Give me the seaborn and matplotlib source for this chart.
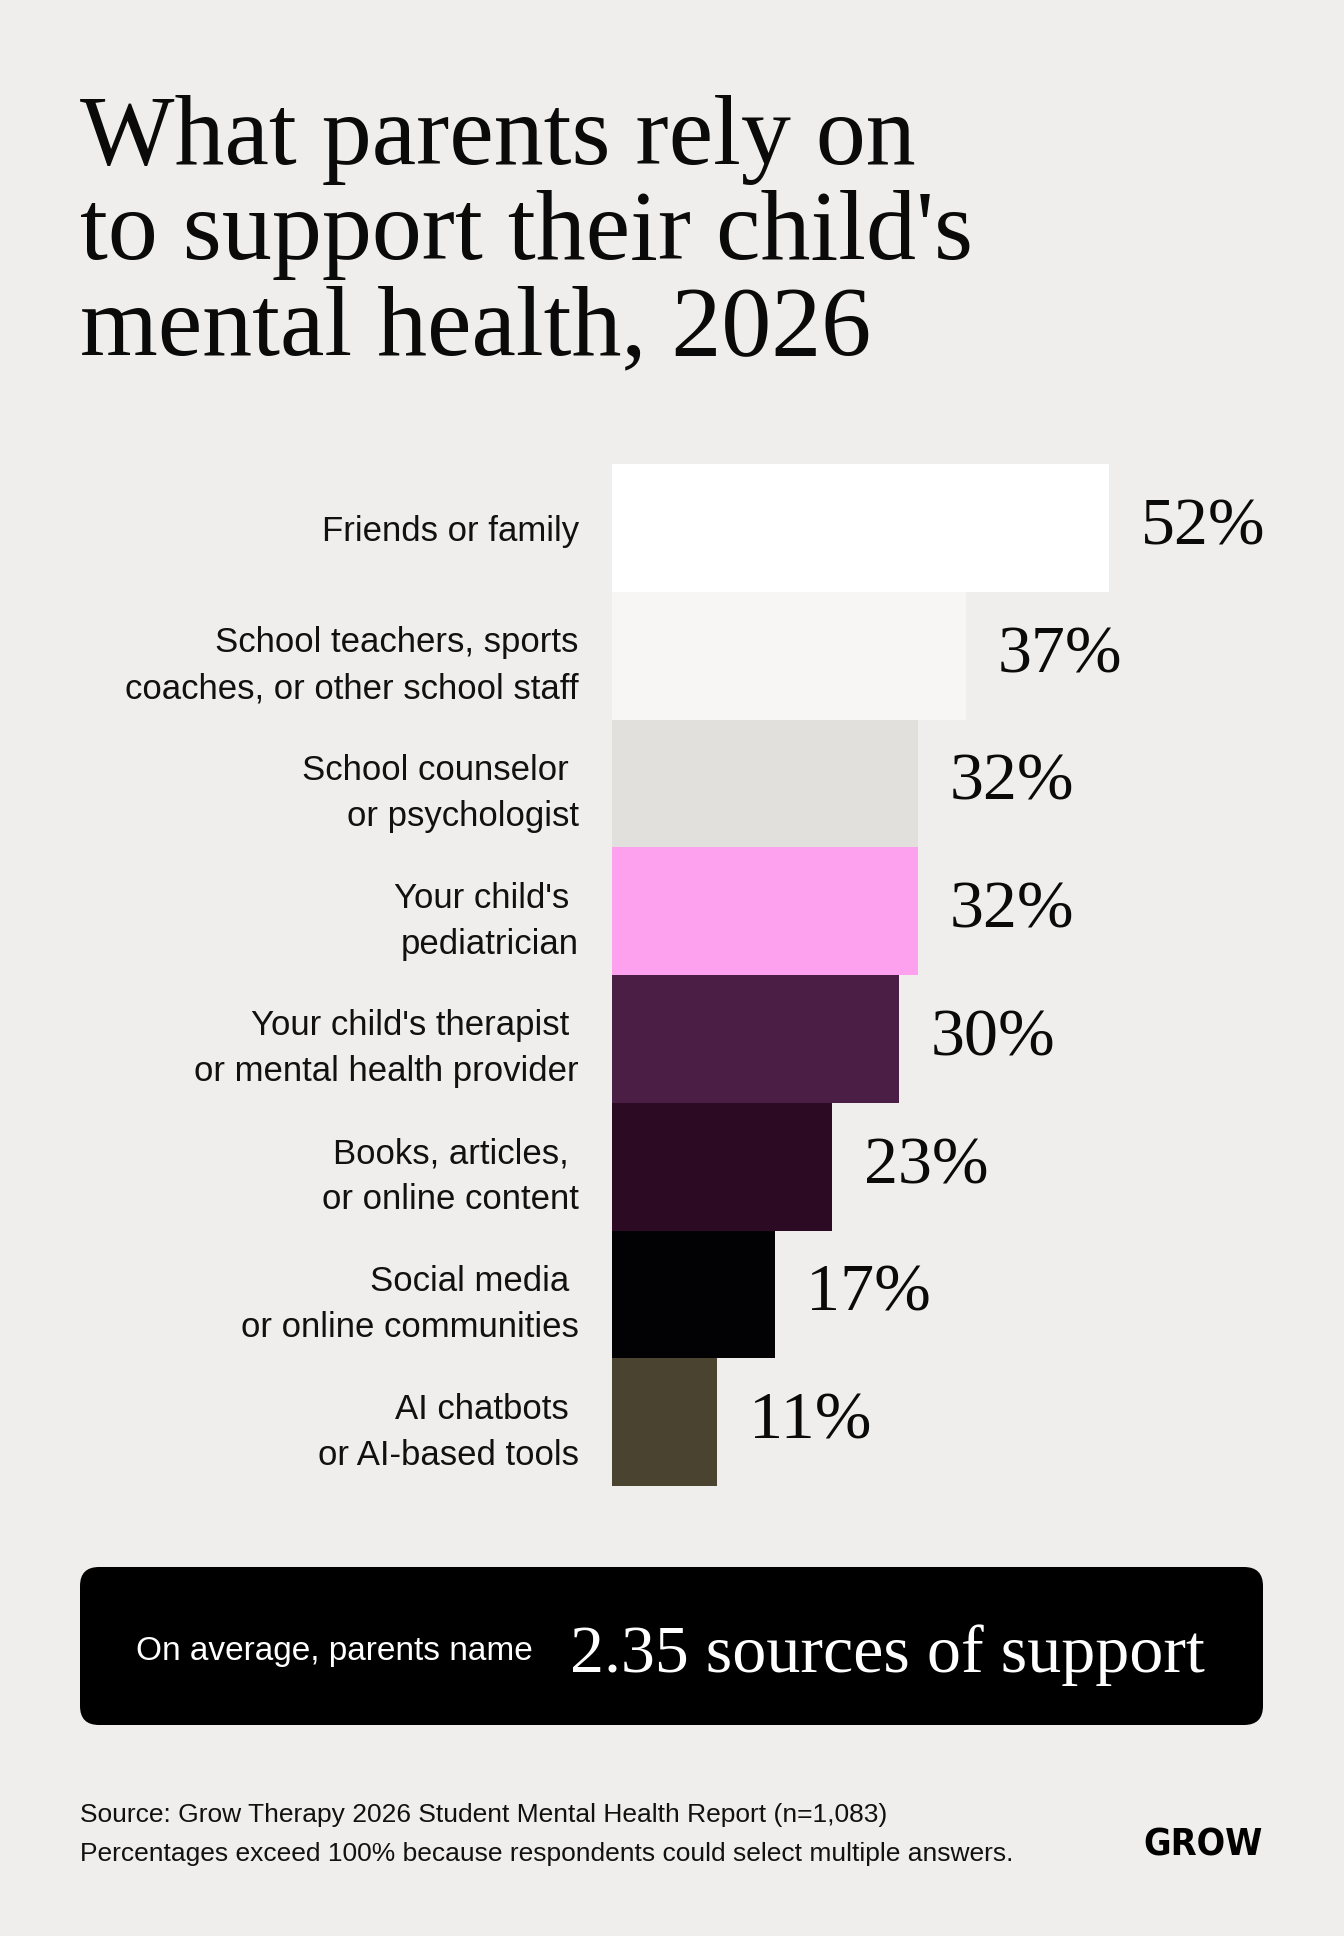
import matplotlib
matplotlib.use("Agg")
import matplotlib.pyplot as plt
from matplotlib.patches import FancyBboxPatch
import seaborn as sns

sources = [
    "Friends or family",
    "School teachers, sports\ncoaches, or other school staff",
    "School counselor \nor psychologist",
    "Your child's \npediatrician",
    "Your child's therapist \nor mental health provider",
    "Books, articles, \nor online content",
    "Social media \nor online communities",
    "AI chatbots \nor AI-based tools",
]
share = [52, 37, 32, 32, 30, 23, 17, 11]
bar_colors = ["#FFFFFF", "#F7F6F4", "#E2E0DC", "#FDA0EE",
              "#4B1E45", "#2C0A23", "#020204", "#4A4330"]

title_lines = ["What parents rely on", "to support their child's", "mental health, 2026"]
avg_sources = 2.35

BG = "#EFEEEC"
SANS = ["Liberation Sans", "DejaVu Sans"]
SERIF = ["Liberation Serif", "DejaVu Serif"]

W, H = 1344, 1936
fig = plt.figure(figsize=(W / 100, H / 100), dpi=100, facecolor=BG)

# bar area, in pixels: x 612..1264, y 464..1486
ax = fig.add_axes([612 / W, (H - 1486) / H, 652 / W, 1022 / H])
ax.set_facecolor(BG)
sns.barplot(x=share, y=sources, hue=sources, palette=bar_colors, legend=False,
            orient="h", width=1, saturation=1, linewidth=0, ax=ax)
ax.set_xlim(0, 652 / 9.56)
ax.set_ylim(7.5, -0.5)
for s in ax.spines.values():
    s.set_visible(False)
ax.set_xticks([])
ax.set_xlabel("")
ax.set_ylabel("")
ax.tick_params(axis="y", length=0, pad=24)
for lab in ax.get_yticklabels():
    lab.set_family(SANS)
    lab.set_fontsize(25)
    lab.set_linespacing(1.5)
    lab.set_color("#111111")

for i, v in enumerate(share):
    ax.annotate(f"{v}%", (v, i), xytext=(23, 0), textcoords="offset points",
                ha="left", va="center", family=SERIF, fontsize=49, color="#0A0A0A")

# title
for line, base in zip(title_lines, [164, 259, 354]):
    fig.text(80 / W, 1 - base / H, line, family=SERIF, fontsize=72,
             ha="left", va="baseline", color="#0A0A0A")

# summary box
box = FancyBboxPatch((0.80, (H - 1725) / 100), 11.83, 1.58,
                     boxstyle="round,pad=0,rounding_size=0.19",
                     transform=fig.dpi_scale_trans, facecolor="#000000",
                     edgecolor="none")
fig.patches.append(box)
fig.text(136 / W, 1 - 1660 / H, "On average, parents name", family=SANS,
         fontsize=24, color="white", ha="left", va="baseline")
fig.text(570 / W, 1 - 1672 / H, f"{avg_sources} sources of support", family=SERIF,
         fontsize=49, color="white", ha="left", va="baseline")

# footer
fig.text(80 / W, 1 - 1822 / H,
         "Source: Grow Therapy 2026 Student Mental Health Report (n=1,083)",
         family=SANS, fontsize=19, color="#111111", ha="left", va="baseline")
fig.text(80 / W, 1 - 1861 / H,
         "Percentages exceed 100% because respondents could select multiple answers.",
         family=SANS, fontsize=19, color="#111111", ha="left", va="baseline")
fig.text(1263 / W, 1 - 1855 / H, "GROW", family=["DejaVu Sans"], fontstretch="condensed",
         fontweight="bold", fontsize=27, color="#000000", ha="right", va="baseline")

fig.savefig("out.png", dpi=100, facecolor=BG)
